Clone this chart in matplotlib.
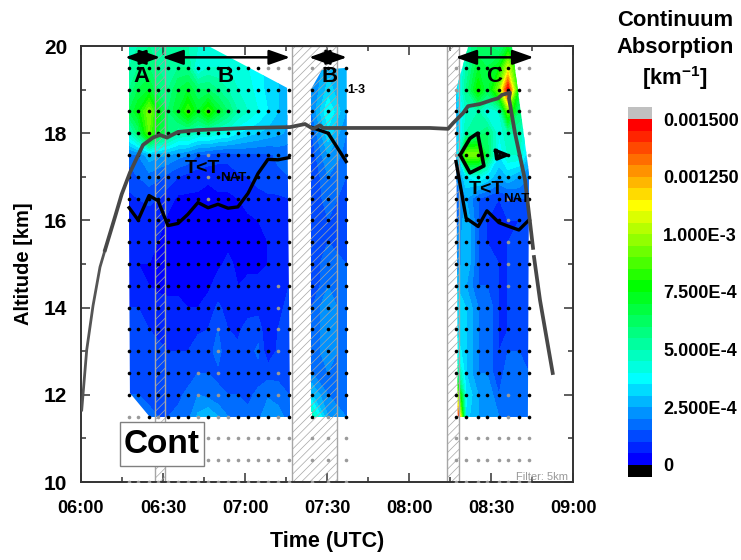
import numpy as np
import matplotlib
matplotlib.use('Agg')
import matplotlib.pyplot as plt
from matplotlib.colors import ListedColormap
from matplotlib.patches import Polygon, Rectangle

plt.rcParams['font.family'] = ['Liberation Sans', 'DejaVu Sans']
plt.rcParams['font.weight'] = 'bold'
plt.rcParams['axes.labelweight'] = 'bold'
plt.rcParams['mathtext.fontset'] = 'custom'
plt.rcParams['mathtext.rm'] = 'Liberation Sans:bold'
plt.rcParams['mathtext.default'] = 'rm'
plt.rcParams['hatch.linewidth'] = 0.5

# time is in minutes after 06:00, absorption in units of 1E-4 / km
time_a = [17.6, 20.9, 24.9, 28.2, 31.8, 35.5, 39.1, 42.8, 46.5, 50.1, 53.8, 57.4, 61.1, 64.8, 68.4, 72.1, 76.1]
time_b = [84.5, 90.4, 97.0]
time_c = [137.2, 140.9, 145.3, 148.5, 152.9, 156.2, 160.2, 163.9]

alt_a = [20, 19.5, 19, 18.5, 18, 17.5, 17, 16.5, 16, 15.5, 15, 14.5, 14, 13.5, 13, 12.5, 12, 11.5]
alt_b = alt_a[1:]
alt_c = alt_a
alt_dots = [10, 10.5, 11, 11.5, 12, 12.5, 13, 13.5, 14, 14.5, 15, 15.5, 16, 16.5, 17, 17.5, 18, 18.5, 19, 19.5]

abs_a = [
    [4.5, 5, 5.5, 5, 5, 5, 5, 4.5, 4.5, 4.5, 4, 4, 4, 3.5, 3.5, 3, 3],
    [5, 5.5, 6, 5.5, 5.5, 5.5, 5.5, 3.8, 4.5, 4.5, 4.5, 4.2, 4, 3.7, 3.3, 3, 2.8],
    [5.5, 6.5, 7, 6, 5.5, 6.5, 7, 6, 6, 5.5, 5, 4.5, 4.2, 3.8, 3.3, 3, 2.5],
    [6.5, 7.5, 9.5, 7.5, 6, 7, 8.5, 7, 8.5, 7, 6, 5, 4.5, 4, 3.5, 3, 2.5],
    [4.5, 6, 9, 7, 6, 5, 5, 4.5, 4.5, 4.2, 4, 3.5, 3.2, 3, 2.8, 2.6, 2.4],
    [1.8, 2, 2.8, 2.6, 2.5, 2.2, 2, 1.5, 1.4, 1.2, 1.2, 1.4, 1.4, 1.4, 1.4, 1.6, 1.6],
    [1.2, 1.5, 1.8, 1.6, 1.3, 1, 0.8, 0.7, 0.6, 0.7, 0.7, 0.9, 1, 1.2, 1.3, 1.4, 1.5],
    [0.9, 1.0, 1.1, 1.0, 0.7, 0.4, 0.4, 0.4, 0.3, 0.4, 0.4, 0.5, 0.7, 0.8, 0.9, 0.9, 1.0],
    [0.8, 0.7, 0.8, 0.7, 0.4, 0.3, 0.3, 0.3, 0.3, 0.4, 0.4, 0.4, 0.4, 0.5, 0.6, 0.7, 0.9],
    [0.7, 0.6, 0.6, 0.5, 0.3, 0.3, 0.3, 0.3, 0.3, 0.3, 0.4, 0.4, 0.4, 0.4, 0.5, 0.6, 0.9],
    [0.6, 0.5, 0.5, 0.4, 0.3, 0.3, 0.3, 0.3, 0.3, 0.4, 0.6, 0.4, 0.4, 0.4, 0.5, 0.7, 0.9],
    [0.8, 0.7, 0.5, 0.4, 0.4, 0.4, 0.3, 0.3, 0.4, 0.7, 0.6, 0.5, 0.6, 0.6, 0.7, 0.8, 1.0],
    [1.0, 1, 0.9, 0.7, 0.6, 0.6, 0.5, 0.5, 0.7, 1.1, 0.8, 0.7, 0.8, 0.8, 0.6, 0.9, 1.1],
    [1.1, 1.1, 1, 0.9, 0.8, 0.8, 0.7, 0.9, 1.0, 1.5, 1.0, 0.9, 1.2, 1.3, 0.5, 1, 1.2],
    [1.2, 1.2, 1.2, 1.1, 1, 1, 1, 1.3, 1.3, 1.7, 1.1, 1.1, 1.3, 1.6, 0.6, 1.1, 1.2],
    [1.3, 1.3, 1.3, 1.2, 1.1, 1.1, 1.3, 1.5, 1.5, 1.4, 1.3, 1.4, 1.3, 1.3, 1.3, 1.3, 1.3],
    [1.5, 1.5, 1.4, 1.4, 1.3, 1.4, 1.6, 2, 1.8, 1.6, 1.5, 1.5, 1.4, 1.6, 1.9, 1.8, 1.5],
    [1.8, 1.8, 1.6, 1.5, 1.5, 1.6, 1.8, 2.6, 3, 2.5, 2, 1.8, 1.6, 1.8, 2.5, 2.2, 1.8],
]
abs_b = [
    [2, 2.8, 2.5], [2, 3.2, 2.5], [2, 4, 2.5], [1.5, 3.3, 2], [1.2, 2.5, 1.8],
    [1, 2, 1.5], [1, 1.8, 1.2], [1, 1.5, 1.2], [1.5, 1.5, 1.5], [1, 2, 1.5],
    [1, 2, 1.5], [1.5, 2.5, 1.5], [1.5, 2.5, 1.5], [1.5, 2.5, 1.5], [2, 2, 1.5],
    [3, 2, 1.5], [5, 2.5, 2],
]
abs_c = [
    [4, 5, 6, 6, 5.5, 7, 6, 4],
    [3, 5, 7, 6.5, 7.5, 10.5, 7, 4],
    [3, 5.5, 8, 6.5, 9.5, 15, 7, 4],
    [2.5, 4.5, 5, 4, 4.5, 9, 6, 4],
    [2.5, 5, 5.5, 6, 4, 5, 5, 3.5],
    [2.5, 9.5, 9.5, 6.5, 3.5, 4.5, 4.5, 3],
    [2, 3.5, 4, 3.5, 2.5, 3, 2.5, 2],
    [1.5, 2.5, 1.5, 1.2, 1, 1.2, 1.5, 1.5],
    [1.5, 3, 1.5, 1, 1, 1, 1, 1.5],
    [2, 3, 1.5, 1, 1, 1, 1.5, 1.5],
    [1.8, 3, 1.5, 1.5, 1, 1, 1.5, 1.5],
    [3, 2.5, 1.5, 1.5, 1, 1, 1.5, 1.5],
    [3.5, 3, 2, 2, 1, 1, 1.5, 1.5],
    [3.5, 3, 2, 2, 1, 1, 1.5, 1.5],
    [4, 3, 2, 2, 1, 1.5, 1.5, 1.5],
    [6, 3, 2, 2, 1, 2, 2, 1.5],
    [11, 3.5, 2.5, 2.5, 1.5, 2, 2, 1.5],
    [17, 3.2, 2.5, 2.5, 2, 2, 2, 2],
]

# filtered measurements (grey dots): altitude -> column numbers
grey_a = {11.5: [0, 1, 3, 7, 9, 10, 15], 12: [7, 9, 15], 12.5: [7, 9, 15], 13: [9, 15], 13.5: [9, 15],
          14: [15], 14.5: [15], 16.5: [8], 17: [8], 17.5: [8], 19.5: [14, 15, 16]}
grey_b = {11.5: [1], 19.5: [0]}
grey_c = {11.5: [5], 12: [5], 14.5: [5], 15: [5], 15.5: [5], 16: [5], 16.5: [5],
          17.5: [0, 7], 18: [7], 18.5: [7], 19: [0, 7], 19.5: [0, 6, 7]}

# outline of the valid area of each leg
edge_a_t = [17.2, 47.2, 75.4, 76.5, 25.2, 17.9]
edge_a_z = [19.98, 19.98, 19.04, 11.49, 11.49, 12.04]
edge_b_t = [84.1, 84.1, 88.1, 97.2, 97.5]
edge_b_z = [11.49, 19.0, 19.45, 19.5, 11.49]
edge_c_t = [137.9, 137.2, 141.6, 157.7, 163.9, 163.5]
edge_c_z = [11.49, 18.99, 19.98, 19.98, 17.09, 11.49]

# T < T_NAT boundary
nat_a = [16.29, 16.01, 16.57, 16.45, 15.88, 15.93, 16.14, 16.41, 16.29, 16.37, 16.28, 16.31, 16.62, 17.08, 17.40, 17.39, 17.44]
nat_b = [18.13, 18.0, 17.35]
nat_c = [17.35, 16.05, 15.86, 16.22, 15.95, 15.87, 15.78, 16.01]
blob_t = [138.7, 142.3, 145.1, 147.4, 142.3, 138.7]
blob_z = [17.5, 17.88, 18.0, 17.25, 17.09, 17.5]
tri_t = [151.7, 155.7, 152.1, 151.7]
tri_z = [17.6, 17.5, 17.41, 17.6]

# flight altitude
climb_t = [0.26, 2.09, 4.39, 6.95, 8.78]
climb_z = [11.65, 13.03, 14.04, 14.93, 15.32]
flight_t = [8.78, 12.44, 14.89, 17.93, 22.68, 26.34, 28.9, 31.46, 35.49, 42.44, 60.73, 76.46, 81.95, 84.88,
            87.44, 88.54, 102.07, 127.68, 134.27, 136.1, 139.76, 141.59, 145.98, 150.26, 152.56, 154.02,
            156.95, 156.59, 158.78, 162.44, 165.37]
flight_z = [15.32, 16.08, 16.6, 17.1, 17.73, 17.9, 17.96, 17.9, 18.03, 18.07, 18.12, 18.14, 18.21, 18.1,
            18.18, 18.12, 18.12, 18.12, 18.1, 18.23, 18.46, 18.62, 18.67, 18.76, 18.8, 18.88,
            18.93, 18.8, 18.0, 16.93, 15.37]
descent_t = [165.73, 167.93, 172.57]
descent_z = [15.16, 14.17, 12.5]

# hatched gaps, minutes
gaps = [(27.0, 30.8), (77.2, 93.8), (134.0, 138.4)]

x_ticks = [0, 30, 60, 90, 120, 150, 180]
x_labels = ['06:00', '06:30', '07:00', '07:30', '08:00', '08:30', '09:00']
y_ticks = [10, 12, 14, 16, 18, 20]
cbar_ticks = [0, 2.5, 5, 7.5, 10, 12.5, 15]
cbar_labels = ['0', '2.500E-4', '5.000E-4', '7.500E-4', '1.000E-3', '0.001250', '0.001500']

# 30 colour steps: blue, cyan, green, yellow, red
steps = np.arange(30)
anchors = [0, 7, 15, 22, 29]
red = np.interp(steps, anchors, [0, 0, 0, 1, 1])
green = np.interp(steps, anchors, [0, 1, 1, 1, 0])
blue = np.interp(steps, anchors, [1, 1, 0, 0, 0])
cmap = ListedColormap(np.column_stack([red, green, blue]))
cmap.set_over('#c0c0c0')
cmap.set_under('black')
levels = np.arange(0, 15.25, 0.5)

fig = plt.figure(figsize=(7.41, 5.6), dpi=100)
ax = fig.add_axes([81 / 741, 78 / 560, 492 / 741, 436 / 560])


def draw_leg(times, alts, values, edge_t, edge_z):
    cs = ax.contourf(times, alts, values, levels=levels, cmap=cmap, extend='both', zorder=1)
    outline = Polygon(np.column_stack([edge_t, edge_z]), closed=True, transform=ax.transData)
    cs.set_clip_path(outline)
    return cs


def draw_dots(times, grey):
    for z in alt_dots:
        for i, t in enumerate(times):
            grey_dot = z <= 11 or i in grey.get(z, [])
            ax.plot(t, z, 'o', ms=2.6, mec='none', color='#9a9a9a' if grey_dot else 'black', zorder=3)


cs = draw_leg(time_a, alt_a, abs_a, edge_a_t, edge_a_z)
draw_leg(time_b, alt_b, abs_b, edge_b_t, edge_b_z)
draw_leg(time_c, alt_c, abs_c, edge_c_t, edge_c_z)

draw_dots(time_a, grey_a)
draw_dots(time_b, grey_b)
draw_dots(time_c, grey_c)

for start, end in gaps:
    ax.axvspan(start, end, fill=False, hatch='////', ec='#a6a6a6', lw=1, zorder=2)

ax.plot(time_a, nat_a, color='black', lw=2.4, zorder=4)
ax.plot(time_b, nat_b, color='black', lw=2.4, zorder=4)
ax.plot(time_c, nat_c, color='black', lw=2.4, zorder=4)
ax.plot(blob_t, blob_z, color='black', lw=2.6, zorder=4)
ax.plot(tri_t, tri_z, color='black', lw=2.6, zorder=4)

ax.plot(climb_t, climb_z, color='#555555', lw=2, zorder=5)
ax.plot(flight_t, flight_z, color='#484848', lw=2.7, zorder=5)
ax.plot(descent_t, descent_z, color='#484848', lw=2.7, zorder=5)

# leg arrows and names
for t0, t1 in [(16.1, 29), (29.7, 76.5), (83.4, 97.3), (137, 165.6)]:
    ax.annotate('', xy=(t1, 19.74), xytext=(t0, 19.74),
                arrowprops=dict(arrowstyle='<|-|>,head_length=0.85,head_width=0.3', mutation_scale=15, lw=1.8,
                                color='black', shrinkA=0, shrinkB=0), zorder=6)
for t, name in [(22.3, 'A'), (53, 'B'), (90.8, 'B'), (151, 'C')]:
    ax.text(t, 19.3, name, fontsize=16, ha='center', va='center', zorder=6)
ax.text(97.5, 18.98, '1-3', fontsize=9, ha='left', va='center', zorder=6)

ax.text(38, 17.2, 'T<T', fontsize=14, ha='left', va='center', zorder=6)
ax.text(51, 16.98, 'NAT', fontsize=9.5, ha='left', va='center', zorder=6)
ax.text(141.7, 16.72, 'T<T', fontsize=14, ha='left', va='center', zorder=6)
ax.text(154.4, 16.48, 'NAT', fontsize=9.5, ha='left', va='center', zorder=6)

ax.add_patch(Rectangle((14.27, 10.37), 30.73, 1.01, fc='white', ec='#808080', lw=1, zorder=6))
ax.text(29.6, 10.87, 'Cont', fontsize=24, ha='center', va='center', zorder=7)
ax.text(178, 10.12, 'Filter: 5km', fontsize=8, fontweight='normal', color='#999999',
        ha='right', va='center', zorder=6)

ax.set_xlim(0, 180)
ax.set_ylim(10, 20)
ax.set_xticks(x_ticks)
ax.set_xticklabels(x_labels, fontsize=13)
ax.set_xticks(np.arange(15, 180, 30), minor=True)
ax.set_yticks(y_ticks)
ax.set_yticks([11, 13, 15, 17, 19], minor=True)
ax.tick_params(axis='y', labelsize=15, pad=10)
ax.tick_params(axis='x', pad=13)
ax.tick_params(which='major', direction='in', length=6.5, width=1.1, top=True, right=True, color='#333333')
ax.tick_params(which='minor', direction='in', length=3.5, width=1.1, top=True, right=True, color='#333333')
for spine in ax.spines.values():
    spine.set_linewidth(1.4)
    spine.set_color('#333333')
ax.set_xlabel('Time (UTC)', fontsize=15.5, labelpad=10)
ax.set_ylabel('Altitude [km]', fontsize=14.5, labelpad=8)

cax = fig.add_axes([628 / 741, 83.5 / 560, 24 / 741, 369 / 560])
cbar = fig.colorbar(cs, cax=cax, extend='both', extendrect=True, extendfrac=1 / 30)
cbar.set_ticks(cbar_ticks, labels=cbar_labels)
cbar.ax.tick_params(length=0, labelsize=13, pad=8)
cbar.ax.minorticks_off()
cbar.outline.set_visible(False)

fig.text(675 / 741, 1 - 20 / 560, 'Continuum', fontsize=15.8, ha='center', va='center')
fig.text(675 / 741, 1 - 47 / 560, 'Absorption', fontsize=15.8, ha='center', va='center')
fig.text(675 / 741, 1 - 78 / 560, '[km$^{-1}$]', fontsize=15.8, ha='center', va='center')

fig.savefig('out.png', dpi=100)
